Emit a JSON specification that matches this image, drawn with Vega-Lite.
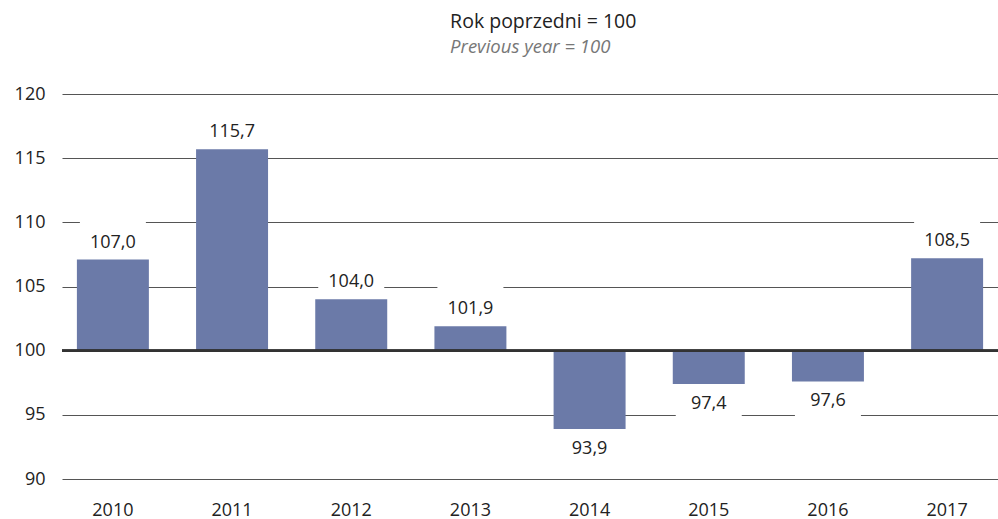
{
  "$schema": "https://vega.github.io/schema/vega-lite/v6.json",
  "autosize": "none",
  "width": 936,
  "height": 385,
  "padding": {"left": 62, "top": 94, "right": 0, "bottom": 40},
  "background": "white",
  "title": {
    "text": "Rok poprzedni = 100",
    "subtitle": "Previous year = 100",
    "anchor": "start",
    "dx": 436,
    "offset": 28,
    "font": "Open Sans",
    "fontSize": 19.5,
    "fontWeight": "normal",
    "color": "#222222",
    "subtitleFont": "Open Sans",
    "subtitleFontSize": 18.5,
    "subtitleFontStyle": "italic",
    "subtitleColor": "#777777",
    "subtitlePadding": 5
  },
  "config": {
    "view": {"stroke": null},
    "font": "Open Sans",
    "title": {"align": "center"}
  },
  "data": {
    "values": [
      {"year": "2010", "value": 107.1, "label": "107,0"},
      {"year": "2011", "value": 115.7, "label": "115,7"},
      {"year": "2012", "value": 104.0, "label": "104,0"},
      {"year": "2013", "value": 101.9, "label": "101,9"},
      {"year": "2014", "value": 93.9, "label": "93,9"},
      {"year": "2015", "value": 97.4, "label": "97,4"},
      {"year": "2016", "value": 97.6, "label": "97,6"},
      {"year": "2017", "value": 107.2, "label": "108,5"}
    ]
  },
  "encoding": {
    "x": {
      "field": "year",
      "type": "nominal",
      "scale": {"paddingInner": 0.396, "paddingOuter": 0.125},
      "axis": {
        "title": null,
        "labelAngle": 0,
        "ticks": false,
        "domain": false,
        "labelPadding": 22,
        "labelFontSize": 18,
        "labelColor": "#222222",
        "labelFont": "Open Sans"
      }
    },
    "y": {
      "field": "value",
      "type": "quantitative",
      "scale": {"domain": [90, 120], "nice": false, "zero": false},
      "axis": {
        "title": null,
        "values": [90, 95, 100, 105, 110, 115, 120],
        "ticks": false,
        "domain": false,
        "labelPadding": 17,
        "labelFontSize": 18,
        "labelColor": "#222222",
        "labelFont": "Open Sans",
        "gridColor": "#555555",
        "gridWidth": 1.2,
        "gridOpacity": 1
      }
    }
  },
  "layer": [
    {
      "transform": [{"filter": "datum.value >= 100"}],
      "mark": {"type": "tick", "color": "white", "opacity": 1, "size": 66, "thickness": 48, "yOffset": -17}
    },
    {
      "transform": [{"filter": "datum.value < 100"}],
      "mark": {"type": "tick", "color": "white", "opacity": 1, "size": 66, "thickness": 48, "yOffset": 20}
    },
    {
      "mark": {"type": "bar", "color": "#6b7aa8"},
      "encoding": {"y2": {"datum": 100}}
    },
    {
      "mark": {"type": "rule", "color": "#333333", "strokeWidth": 1.8},
      "encoding": {"y": {"datum": 100}, "x": null}
    },
    {
      "transform": [{"filter": "datum.value >= 100"}],
      "mark": {"type": "text", "baseline": "middle", "dy": -17, "fontSize": 18, "color": "#222222", "font": "Open Sans"},
      "encoding": {"text": {"field": "label"}}
    },
    {
      "transform": [{"filter": "datum.value < 100"}],
      "mark": {"type": "text", "baseline": "middle", "dy": 20, "fontSize": 18, "color": "#222222", "font": "Open Sans"},
      "encoding": {"text": {"field": "label"}}
    }
  ]
}
